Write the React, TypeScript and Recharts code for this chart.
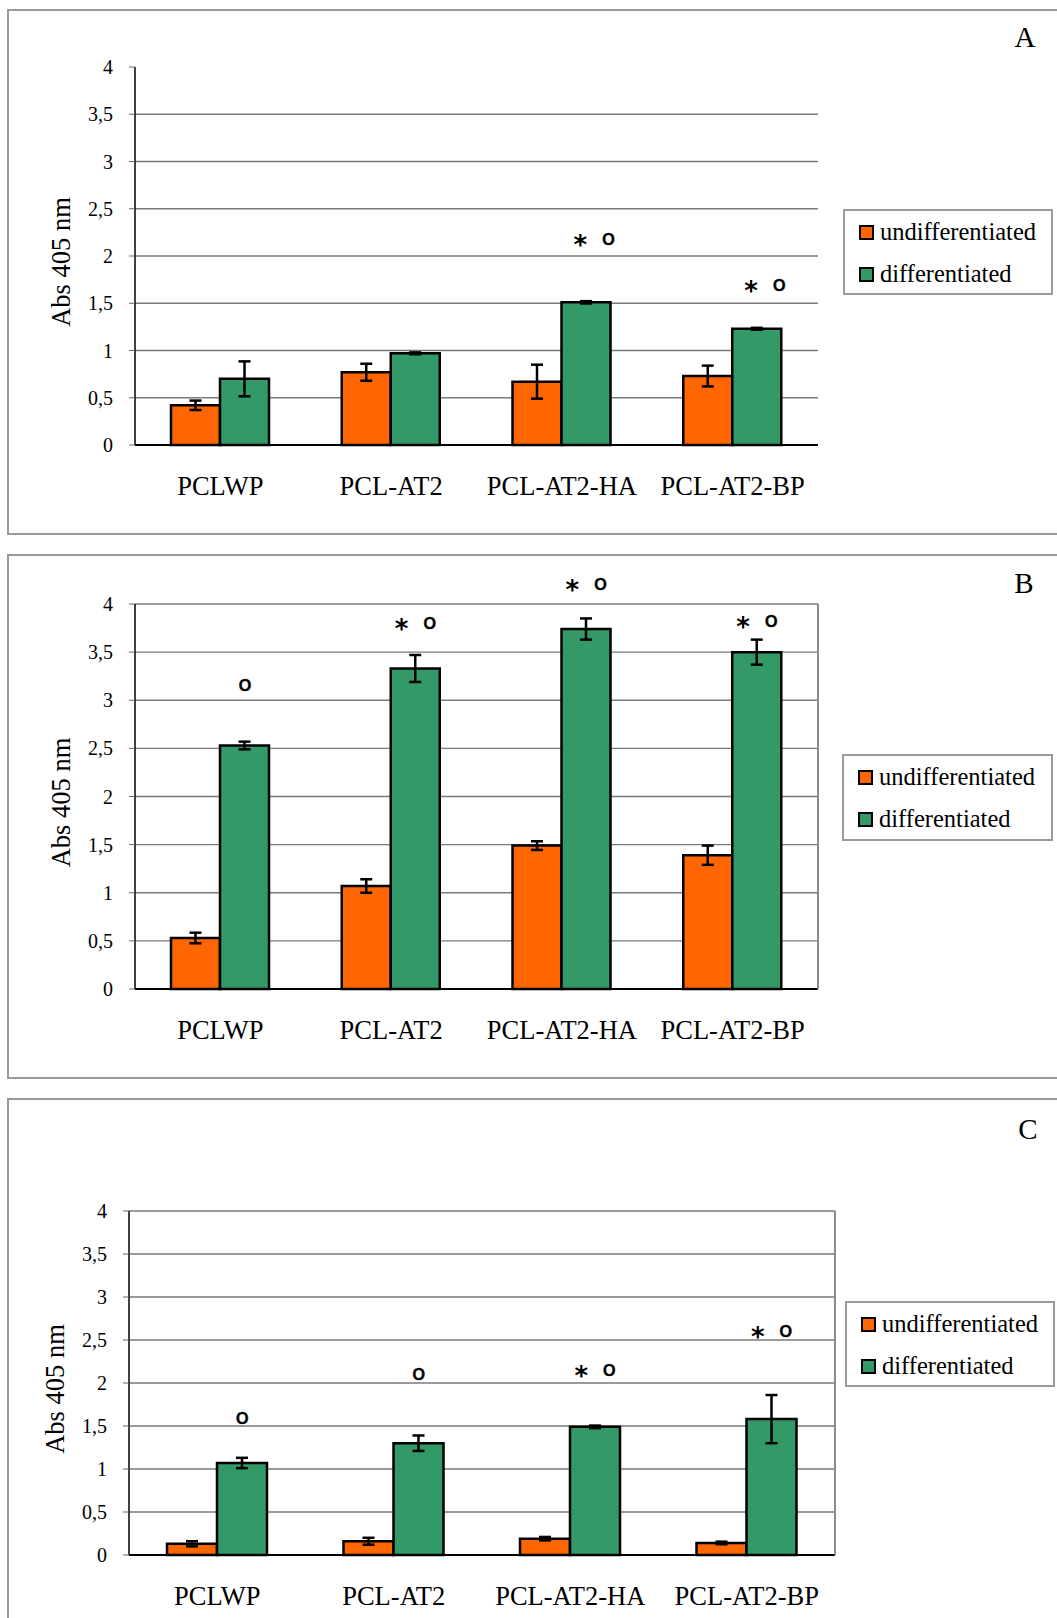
import React from 'react';
import {
  ComposedChart, Bar, XAxis, YAxis, CartesianGrid, Legend, ErrorBar, ReferenceDot, Label,
} from 'recharts';

// data (A, B, C)
const categories = ['PCLWP', 'PCL-AT2', 'PCL-AT2-HA', 'PCL-AT2-BP'];
const yTicks = [0, 0.5, 1, 1.5, 2, 2.5, 3, 3.5, 4];
const boundaryTicks = [0, 1, 2, 3, 4];
const seriesKeys = ['undiff', 'diff'];

const undiffA = [0.42, 0.77, 0.67, 0.73];
const undiffErrA = [0.05, 0.09, 0.18, 0.11];
const diffA = [0.7, 0.97, 1.51, 1.23];
const diffErrA = [0.185, 0.01, 0.012, 0.01];
const marksA = ['', '', '*o', '*o'];
const markYA = [0, 0, 2.18, 1.69];

const undiffB = [0.53, 1.07, 1.49, 1.39];
const undiffErrB = [0.055, 0.07, 0.045, 0.1];
const diffB = [2.53, 3.33, 3.74, 3.5];
const diffErrB = [0.04, 0.14, 0.11, 0.13];
const marksB = ['o', '*o', '*o', '*o'];
const markYB = [3.16, 3.8, 4.21, 3.82];

const undiffC = [0.13, 0.16, 0.19, 0.14];
const undiffErrC = [0.03, 0.04, 0.02, 0.015];
const diffC = [1.07, 1.3, 1.49, 1.58];
const diffErrC = [0.06, 0.09, 0.015, 0.28];
const marksC = ['o', 'o', '*o', '*o'];
const markYC = [1.59, 2.1, 2.15, 2.6];

const ORANGE = '#FF6600';
const GREEN = '#339966';
const SERIF = '"Liberation Serif", "Times New Roman", serif';
const SANS = '"DejaVu Sans", sans-serif';
const W = 1057;
const Y_W = 70;
const CAT_H = 60;
const EDGE_H = 1;

function buildRows(u: number[], ue: number[], d: number[], de: number[], m: string[], my: number[]) {
  return categories.map((name, i) => ({
    name, undiff: u[i], undiffErr: ue[i], diff: d[i], diffErr: de[i], mark: m[i], markY: my[i],
  }));
}

const rowsA = buildRows(undiffA, undiffErrA, diffA, diffErrA, marksA, markYA);
const rowsB = buildRows(undiffB, undiffErrB, diffB, diffErrB, marksB, markYB);
const rowsC = buildRows(undiffC, undiffErrC, diffC, diffErrC, marksC, markYC);

const panels = [
  { letter: 'A', rows: rowsA, top: 9, bottom: 535, plotTop: 67, plotBottom: 445, plotLeft: 135, plotRight: 818,
    barSize: 49, frame: false, markShift: 8, legend: { x: 843, y: 209, w: 210, h: 86 }, letterPos: { x: 1025, y: 37 } },
  { letter: 'B', rows: rowsB, top: 554, bottom: 1079, plotTop: 604, plotBottom: 989, plotLeft: 135, plotRight: 818,
    barSize: 49, frame: true, markShift: 0, legend: { x: 842, y: 754, w: 211, h: 87 }, letterPos: { x: 1024, y: 583 } },
  { letter: 'C', rows: rowsC, top: 1098, bottom: 1625, plotTop: 1211, plotBottom: 1555, plotLeft: 129, plotRight: 835,
    barSize: 50, frame: true, markShift: 0, legend: { x: 845, y: 1301, w: 210, h: 86 }, letterPos: { x: 1028, y: 1129 } },
];

const fmt = (v: number) => String(v).replace('.', ',');

function Mark({ cx, cy, text }: { cx: number; cy: number; text: string }) {
  const star = { fontFamily: SANS, fontWeight: 700, fill: '#000' } as React.CSSProperties;
  const ring = { fontFamily: SANS, fontWeight: 400, fill: '#000', stroke: '#000', strokeWidth: 0.6 } as React.CSSProperties;
  if (text === 'o') {
    return <text x={cx} y={cy + 6} textAnchor="middle" fontSize={22} style={ring}>o</text>;
  }
  return (
    <g>
      <text x={cx - 14} y={cy + 15} textAnchor="middle" fontSize={26} style={star}>*</text>
      <text x={cx + 14} y={cy + 6} textAnchor="middle" fontSize={22} style={ring}>o</text>
    </g>
  );
}

function LegendBox(props: any) {
  const items = (props.payload || [])
    .filter((e: any) => seriesKeys.includes(e.dataKey))
    .sort((a: any, b: any) => seriesKeys.indexOf(a.dataKey) - seriesKeys.indexOf(b.dataKey));
  return (
    <div style={{
      width: '100%', height: '100%', boxSizing: 'border-box', border: '2px solid #9a9a9a', background: '#fff',
      fontFamily: SERIF, fontSize: 24.5, color: '#000', paddingLeft: 14,
    }}>
      {items.map((e: any) => (
        <div key={e.value} style={{ display: 'flex', alignItems: 'center', height: 42 }}>
          <span style={{
            display: 'inline-block', width: 11, height: 11, border: '2px solid #000', marginRight: 6,
            background: e.dataKey === 'undiff' ? ORANGE : GREEN,
          }} />
          {e.value}
        </div>
      ))}
    </div>
  );
}

function AxisTitle(props: any) {
  const vb = props.viewBox || { x: 0, y: 0, height: 0 };
  const cx = vb.x - 4;
  const cy = vb.y + vb.height / 2 + 6;
  return (
    <text x={cx} y={cy} transform={`rotate(-90 ${cx} ${cy})`} textAnchor="middle" dominantBaseline="central"
      fontFamily={SERIF} fontSize={26.5} fill="#000">
      Abs 405 nm
    </text>
  );
}

function Panel({ p }: { p: (typeof panels)[number] }) {
  const H = Math.min(p.bottom, 1618) - p.top;
  const margin = {
    top: p.plotTop - p.top,
    right: W - p.plotRight - (p.frame ? 1 : 0),
    bottom: H - (p.plotBottom - p.top) - CAT_H - EDGE_H,
    left: p.plotLeft - Y_W,
  };
  const gridValues = p.frame ? yTicks.slice(1) : yTicks.slice(1, -1);
  const dx = p.barSize / 2 + p.markShift;
  return (
    <>
      <div style={{
        position: 'absolute', left: 7, top: p.top, width: 1060, height: p.bottom - p.top,
        border: '2px solid #999', boxSizing: 'border-box',
      }} />
      <div style={{
        position: 'absolute', left: p.letterPos.x - 20, top: p.letterPos.y - 18, width: 40, textAlign: 'center',
        fontFamily: SERIF, fontSize: 29, lineHeight: '36px',
      }}>{p.letter}</div>
      <div style={{ position: 'absolute', left: 0, top: p.top }}>
        <ComposedChart width={W} height={H} data={p.rows} margin={margin} barGap={0} barSize={p.barSize}>
          <CartesianGrid xAxisId="cat" vertical={false} horizontalValues={gridValues} stroke="#7a7a7a" strokeWidth={1.3} />
          <XAxis xAxisId="edge" type="number" domain={[0, 4]} ticks={boundaryTicks} tick={false} tickSize={7}
            tickLine={{ stroke: '#555', strokeWidth: 1.3 }} axisLine={false} height={EDGE_H} />
          <XAxis xAxisId="cat" dataKey="name" interval={0} tickLine={false} tickMargin={25}
            axisLine={{ stroke: '#000', strokeWidth: 2 }} height={CAT_H}
            tick={{ fontFamily: SERIF, fontSize: 26.5, fill: '#000' }} />
          <YAxis domain={[0, 4]} ticks={yTicks} tickFormatter={fmt} width={Y_W} tickSize={6} tickMargin={16}
            tickLine={{ stroke: '#666' }} axisLine={{ stroke: '#000', strokeWidth: 1.5 }}
            tick={{ fontFamily: SERIF, fontSize: 20, fill: '#000' }}>
            <Label content={AxisTitle} />
          </YAxis>
          {p.frame && (
            <YAxis yAxisId="frame" orientation="right" domain={[0, 4]} width={1} tick={false} tickLine={false}
              axisLine={{ stroke: '#8c8c8c', strokeWidth: 2 }} />
          )}
          <Legend layout="vertical" align="center" verticalAlign="middle" content={LegendBox}
            wrapperStyle={{ left: p.legend.x, top: p.legend.y - p.top, width: p.legend.w, height: p.legend.h }} />
          <Bar xAxisId="cat" dataKey="undiff" name="undifferentiated" fill={ORANGE} stroke="#000" strokeWidth={2.5}
            isAnimationActive={false}>
            <ErrorBar dataKey="undiffErr" width={6} strokeWidth={2.5} stroke="#000" direction="y" />
          </Bar>
          <Bar xAxisId="cat" dataKey="diff" name="differentiated" fill={GREEN} stroke="#000" strokeWidth={2.5}
            isAnimationActive={false}>
            <ErrorBar dataKey="diffErr" width={6} strokeWidth={2.5} stroke="#000" direction="y" />
          </Bar>
          {p.rows.filter((r) => r.mark).map((r) => (
            <ReferenceDot key={r.name} xAxisId="cat" x={r.name} y={r.markY} r={0} ifOverflow="visible"
              shape={(s: any) => <Mark cx={s.cx + dx} cy={s.cy} text={r.mark} />} />
          ))}
        </ComposedChart>
      </div>
    </>
  );
}

export default function App() {
  return (
    <div style={{ position: 'absolute', left: 0, top: 0, width: W, height: 1618, background: '#fff', overflow: 'hidden' }}>
      {panels.map((p) => <Panel key={p.letter} p={p} />)}
    </div>
  );
}
